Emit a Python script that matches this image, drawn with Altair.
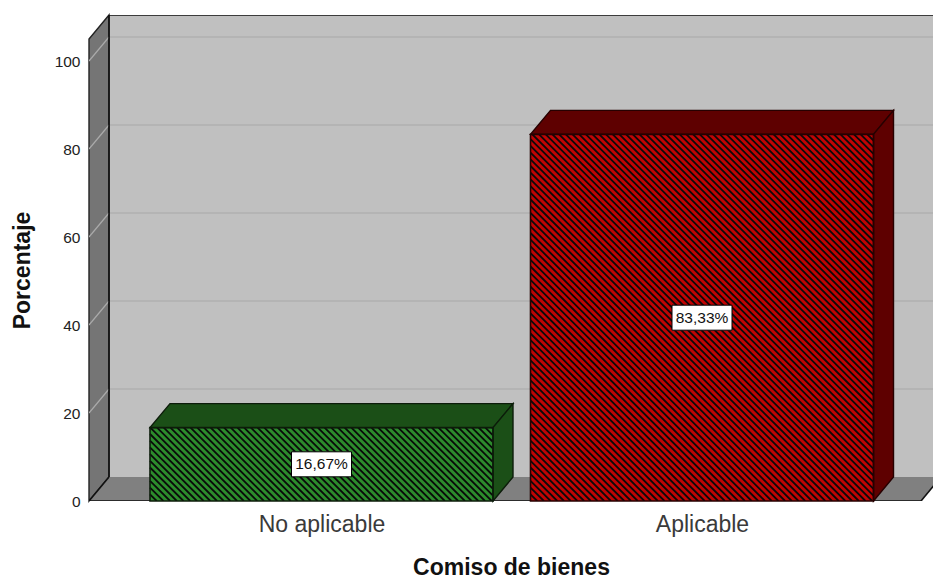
import altair as alt
import pandas as pd

categories = ["No aplicable", "Aplicable"]
values = [16.67, 83.33]
value_labels = ["16,67%", "83,33%"]
front_colors = ["#2c8c2c", "#c00404"]
depth_colors = ["#1b4f17", "#5e0000"]
edge_colors = ["#0c1c0a", "#260000"]
y_ticks = [0, 20, 40, 60, 80, 100]

# plot geometry (pixels of the plot area)
W, H = 844, 486
PX_PER_X = 380.5   # pixels per category step
PX_PER_Y = 4.4     # pixels per percentage point
X0_PX = 232.5      # pixel of category 0
DX = 20 / PX_PER_X
DY = 24 / PX_PER_Y
BAR_HALF = 171.5 / PX_PER_X
XMIN = -X0_PX / PX_PER_X
XMAX = (W - X0_PX) / PX_PER_X
YMAX = H / PX_PER_Y
FRONT_TOP = YMAX - DY
FLOOR_R = (832 - X0_PX) / PX_PER_X

xs = alt.Scale(domain=[XMIN, XMAX], nice=False, zero=False)
ys = alt.Scale(domain=[0, YMAX], nice=False, zero=False)
cat_expr = "datum.value == 0 ? '%s' : '%s'" % (categories[0], categories[1])
x_axis = alt.Axis(values=[0, 1], labelExpr=cat_expr, domain=False, ticks=False, grid=False,
                  labelFont="Liberation Sans", labelFontSize=23, labelColor="#3a3a3a",
                  labelPadding=12, titleFont="Liberation Sans", titleFontSize=23,
                  titleFontWeight="bold", titleColor="#111111", titlePadding=20)
y_axis = alt.Axis(values=y_ticks, format="d", domain=False, ticks=False, grid=False,
                  labelFont="Liberation Sans", labelFontSize=15.5,
                  labelColor="#222222", labelPadding=9, titleFont="Liberation Sans",
                  titleFontSize=23, titleFontWeight="bold", titleColor="#111111",
                  titlePadding=20, titleY=255)
X = lambda f="x": alt.X(f"{f}:Q", scale=xs, axis=x_axis, title="Comiso de bienes")
Y = lambda f="y": alt.Y(f"{f}:Q", scale=ys, axis=y_axis, title="Porcentaje")


def rect(x, x2, y, y2, color, stroke=None, sw=1.0):
    d = pd.DataFrame({"x": [x], "x2": [x2], "y": [y], "y2": [y2]})
    kw = dict(color=color, opacity=1)
    if stroke:
        kw.update(stroke=stroke, strokeWidth=sw)
    return alt.Chart(d).mark_rect(**kw).encode(
        x=X(), x2="x2:Q", y=Y(), y2="y2:Q")


def vface(x1, x2, y1lo, y1hi, y2lo, y2hi, color, stroke="black", sw=1.4):
    d = pd.DataFrame({"x": [x1, x2], "y": [y1lo, y2lo], "y2": [y1hi, y2hi]})
    return alt.Chart(d).mark_area(color=color, opacity=1, stroke=stroke, strokeWidth=sw).encode(
        x=X(), y=Y(), y2="y2:Q")


def hface(y1, y2, x1lo, x1hi, x2lo, x2hi, color, stroke="black", sw=1.4):
    d = pd.DataFrame({"y": [y1, y2], "x": [x1lo, x2lo], "x2": [x1hi, x2hi]})
    return alt.Chart(d).mark_area(color=color, opacity=1, orient="horizontal", clip=True,
                                  stroke=stroke, strokeWidth=sw).encode(
        y=Y(), x=X(), x2="x2:Q")


def segs(rows, color, sw):
    d = pd.DataFrame(rows, columns=["x", "y", "x2", "y2"])
    return alt.Chart(d).mark_rule(color=color, strokeWidth=sw, clip=True).encode(
        x=X(), y=Y(), x2="x2:Q", y2="y2:Q")


def hatch(xl, xr, top):
    """Diagonal decorative texture clipped to a bar's front face."""
    wpx = (xr - xl) * PX_PER_X
    hpx = top * PX_PER_Y
    period = 6.7
    rows = []
    c = -hpx
    while c < wpx:
        py0 = max(0.0, -c)
        py1 = min(hpx, wpx - c)
        if py1 > py0:
            rows.append((xl + (c + py0) / PX_PER_X, top - py0 / PX_PER_Y,
                         xl + (c + py1) / PX_PER_X, top - py1 / PX_PER_Y))
        c += period
    return segs(rows, "#0a0a0a", 1.8)


layers = []

# back wall
layers.append(rect(XMIN + DX, XMAX, DY, YMAX, "#c0c0c0"))
# grid on the back wall and on the side wall
back_grid = [(XMIN + DX, t + DY, XMAX, t + DY) for t in y_ticks[1:]]
side_grid = [(XMIN, t, XMIN + DX, t + DY) for t in y_ticks[1:]]
layers.append(segs(back_grid, "#b0b0b0", 1.6))
# side wall
layers.append(vface(XMIN, XMIN + DX, 0, FRONT_TOP, DY, YMAX, "#757575", stroke="#222222", sw=1.4))
layers.append(segs(side_grid, "#ababab", 1.2))
# floor
layers.append(hface(0, DY, XMIN, FLOOR_R, XMIN + DX, FLOOR_R + DX, "#808080", stroke="#808080", sw=0))
layers.append(segs([(XMIN, 0, FLOOR_R, 0), (FLOOR_R, 0, FLOOR_R + DX, DY)], "#111111", 1.6))
layers.append(segs([(XMIN + DX, YMAX, XMAX, YMAX), (XMIN + DX, DY, XMIN + DX, YMAX),
                    (XMIN, 0, XMIN + DX, DY)], "#111111", 1.6))

# bars
for i, v in enumerate(values):
    xl, xr = i - BAR_HALF, i + BAR_HALF
    layers.append(rect(xl, xr, 0, v, front_colors[i]))
    layers.append(hatch(xl, xr, v))
    layers.append(hface(v, v + DY, xl, xr, xl + DX, xr + DX, depth_colors[i], stroke=edge_colors[i]))
    layers.append(vface(xr, xr + DX, 0, v, DY, v + DY, depth_colors[i], stroke=edge_colors[i]))
    layers.append(rect(xl, xr, 0, v, "transparent", stroke=edge_colors[i], sw=1.6))

# value labels
BOX_W, BOX_H = 30 / PX_PER_X, 12.5 / PX_PER_Y
for i, v in enumerate(values):
    layers.append(rect(i - BOX_W, i + BOX_W, v / 2 - BOX_H, v / 2 + BOX_H, "white", stroke="#000000", sw=1))
labels = pd.DataFrame({"x": [0, 1], "y": [v / 2 for v in values], "t": value_labels})
layers.append(alt.Chart(labels).mark_text(font="Liberation Sans", fontSize=15.5, color="#111111",
                                          align="center", baseline="middle").encode(
    x=X(), y=Y(), text="t:N"))

chart = alt.layer(*layers).properties(
    width=W, height=H,
    padding={"left": 81, "top": 7, "right": 0, "bottom": 79},
    autosize=alt.AutoSizeParams(type="none"),
    background="white",
).configure_view(stroke=None)

chart.save("out.html", embed_options={"renderer": "svg", "actions": False})
